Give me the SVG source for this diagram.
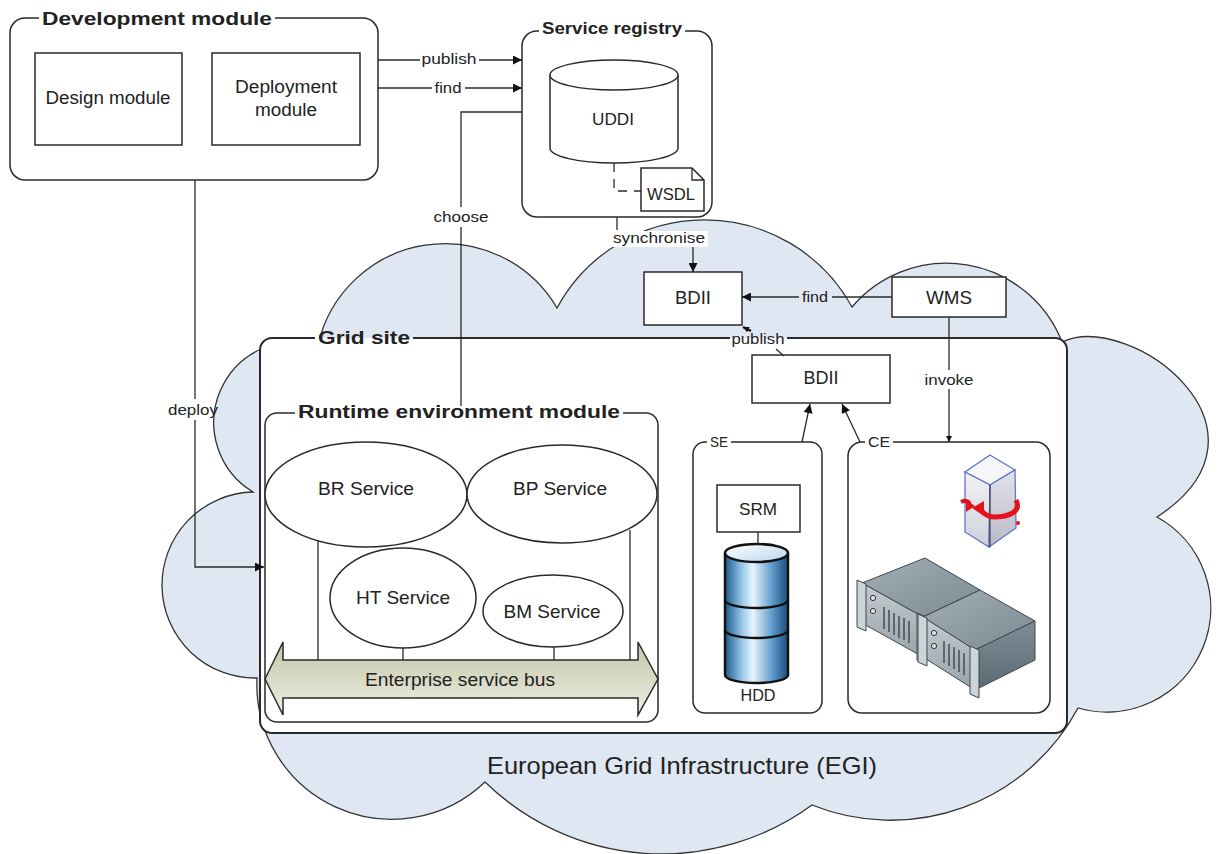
<svg xmlns="http://www.w3.org/2000/svg" width="1219" height="854" viewBox="0 0 1219 854">
  <defs>
    <style>
      text { font-family: "Liberation Sans", Arial, sans-serif; fill: #222; }
      .c { text-anchor: middle; }
      .lbl { font-size: 15px; }
      .nm { font-size: 18px; }
      .sv { font-size: 19px; }
      .ttl { font-size: 19px; font-weight: bold; }
      .box { fill: #fff; stroke: #2a2a2a; stroke-width: 1.5; }
      .bg { fill: #fff; stroke: none; }
      .frame { fill: none; stroke: #2a2a2a; stroke-width: 1.5; }
      .ln { fill: none; stroke: #2a2a2a; stroke-width: 1.3; }
      .arr { marker-end: url(#ah); }
    </style>
    <marker id="ah" viewBox="0 0 10 10" refX="10" refY="5" markerWidth="11" markerHeight="9" markerUnits="userSpaceOnUse" orient="auto">
      <path d="M0,0 L10,5 L0,10 Z" fill="#111"/>
    </marker>
    <marker id="ahs" viewBox="0 0 10 10" refX="10" refY="5" markerWidth="7" markerHeight="6" markerUnits="userSpaceOnUse" orient="auto">
      <path d="M0,0 L10,5 L0,10 Z" fill="#111"/>
    </marker>
    <linearGradient id="busFill" x1="0" y1="0" x2="0" y2="1">
      <stop offset="0" stop-color="#c3c6a8"/>
      <stop offset="0.6" stop-color="#dcdecb"/>
      <stop offset="1" stop-color="#eff0e6"/>
    </linearGradient>
    <linearGradient id="hddFill" x1="0" y1="0" x2="1" y2="0">
      <stop offset="0" stop-color="#1c5990"/>
      <stop offset="0.28" stop-color="#9ccbea"/>
      <stop offset="0.45" stop-color="#e8f4fc"/>
      <stop offset="0.75" stop-color="#5c9bcb"/>
      <stop offset="1" stop-color="#1a4c7c"/>
    </linearGradient>
    <linearGradient id="hddTop" x1="0" y1="0" x2="1" y2="1">
      <stop offset="0" stop-color="#ffffff"/>
      <stop offset="1" stop-color="#b6d6ee"/>
    </linearGradient>
    <linearGradient id="cubeL" x1="0" y1="0" x2="0" y2="1">
      <stop offset="0" stop-color="#f2f2f6"/>
      <stop offset="1" stop-color="#cfd0da"/>
    </linearGradient>
    <linearGradient id="cubeR" x1="0" y1="0" x2="0" y2="1">
      <stop offset="0" stop-color="#e2e2ea"/>
      <stop offset="1" stop-color="#b9bac6"/>
    </linearGradient>
    <linearGradient id="srvTop" x1="0" y1="0" x2="1" y2="1">
      <stop offset="0" stop-color="#a3aeb5"/>
      <stop offset="1" stop-color="#7d8a93"/>
    </linearGradient>
    <linearGradient id="srvFront" x1="0" y1="0" x2="0" y2="1">
      <stop offset="0" stop-color="#c4cbd0"/>
      <stop offset="1" stop-color="#98a3aa"/>
    </linearGradient>
    <linearGradient id="srvSide" x1="0" y1="0" x2="0" y2="1">
      <stop offset="0" stop-color="#7f8d96"/>
      <stop offset="1" stop-color="#5c6a73"/>
    </linearGradient>
  </defs>

  <rect x="0" y="0" width="1219" height="854" fill="#fff"/>

  <!-- EGI cloud -->
  <g id="egi-cloud">
    <path d="M318 345 A130 130 0 0 1 557 308 A168 168 0 0 1 852 307 A124 124 0 0 1 1062 342 C1130 310 1290 430 1157 517 A104 104 0 0 1 1078 708 A212 212 0 0 1 812 805 A254 254 0 0 1 485 782 A135 135 0 0 1 257 678 A93 93 0 0 1 253 492 A81 81 0 0 1 318 345 Z" fill="#dfe7f2" stroke="#333" stroke-width="1.3"/>
    <text x="682" y="774" class="c" font-size="24" textLength="390" lengthAdjust="spacingAndGlyphs">European Grid Infrastructure (EGI)</text>
  </g>

  <!-- Development module -->
  <g id="development-module">
    <rect x="10" y="18" width="368" height="162" rx="15" class="bg"/>
    <path class="frame" d="M275 18 H363 A15 15 0 0 1 378 33 V165 A15 15 0 0 1 363 180 H25 A15 15 0 0 1 10 165 V33 A15 15 0 0 1 25 18 H39"/>
    <text x="42" y="25" class="ttl" textLength="230" lengthAdjust="spacingAndGlyphs">Development module</text>
  </g>
  <g id="design-module">
    <rect x="35" y="53" width="147" height="92" class="box"/>
    <text x="108" y="104" class="c nm" textLength="125" lengthAdjust="spacingAndGlyphs">Design module</text>
  </g>
  <g id="deployment-module">
    <rect x="212" y="53" width="148" height="92" class="box"/>
    <text x="286" y="93" class="c nm" textLength="102" lengthAdjust="spacingAndGlyphs">Deployment</text>
    <text x="286" y="116" class="c nm" textLength="62" lengthAdjust="spacingAndGlyphs">module</text>
  </g>

  <!-- Service registry -->
  <g id="service-registry">
    <rect x="522" y="31" width="190" height="186" rx="15" class="bg"/>
    <path class="frame" d="M685 31 H697 A15 15 0 0 1 712 46 V202 A15 15 0 0 1 697 217 H537 A15 15 0 0 1 522 202 V46 A15 15 0 0 1 537 31 H539"/>
    <text x="542" y="34" font-size="16" font-weight="bold" textLength="140" lengthAdjust="spacingAndGlyphs">Service registry</text>
  </g>
  <g id="uddi">
    <path d="M550 75 V148 A64 15 0 0 0 678 148 V75" class="box"/>
    <ellipse cx="614" cy="75" rx="64" ry="15" class="box"/>
    <text x="613" y="125" class="c" font-size="17" textLength="42" lengthAdjust="spacingAndGlyphs">UDDI</text>
  </g>
  <g id="wsdl">
    <path d="M641 168 H692 L704 180 V211 H641 Z" class="box"/>
    <path d="M692 168 V180 H704" class="ln"/>
    <text x="671" y="200" class="c" font-size="17" textLength="48" lengthAdjust="spacingAndGlyphs">WSDL</text>
  </g>

  <!-- Top-level BDII and WMS -->
  <g id="bdii-top">
    <rect x="644" y="272" width="98" height="53" class="box"/>
    <text x="693" y="304" class="c nm" textLength="36" lengthAdjust="spacingAndGlyphs">BDII</text>
  </g>
  <g id="wms">
    <rect x="892" y="277" width="114" height="40" class="box"/>
    <text x="949" y="304" class="c nm" textLength="46" lengthAdjust="spacingAndGlyphs">WMS</text>
  </g>

  <!-- Grid site -->
  <g id="grid-site">
    <rect x="260" y="338" width="807" height="395" rx="12" class="bg"/>
    <path d="M413 338 H730 M787 338 H1055 A12 12 0 0 1 1067 350 V721 A12 12 0 0 1 1055 733 H272 A12 12 0 0 1 260 721 V350 A12 12 0 0 1 272 338 H315" fill="none" stroke="#2a2a2a" stroke-width="2"/>
    <text x="318" y="344" class="ttl" textLength="92" lengthAdjust="spacingAndGlyphs">Grid site</text>
  </g>
  <g id="bdii-site">
    <rect x="752" y="355" width="138" height="48" class="box"/>
    <text x="821" y="384" class="c nm" textLength="35" lengthAdjust="spacingAndGlyphs">BDII</text>
  </g>

  <!-- Runtime environment module -->
  <g id="runtime-environment-module">
    <path class="frame" d="M623 413 H646 A12 12 0 0 1 658 425 V710 A12 12 0 0 1 646 722 H277 A12 12 0 0 1 265 710 V425 A12 12 0 0 1 277 413 H295"/>
    <text x="298" y="418" class="ttl" textLength="322" lengthAdjust="spacingAndGlyphs">Runtime environment module</text>
  </g>
  <g id="service-links">
    <path class="ln" d="M318 540 V660 M403 648 V660 M554 647 V660 M630 530 V660"/>
  </g>
  <g id="br-service">
    <ellipse cx="366" cy="494.5" rx="101" ry="52.5" class="box"/>
    <text x="366" y="495" class="c sv" textLength="96" lengthAdjust="spacingAndGlyphs">BR Service</text>
  </g>
  <g id="bp-service">
    <ellipse cx="562" cy="494" rx="95" ry="49" class="box"/>
    <text x="560" y="495" class="c sv" textLength="94" lengthAdjust="spacingAndGlyphs">BP Service</text>
  </g>
  <g id="ht-service">
    <ellipse cx="403" cy="598" rx="73" ry="50" class="box"/>
    <text x="403" y="604" class="c sv" textLength="94" lengthAdjust="spacingAndGlyphs">HT Service</text>
  </g>
  <g id="bm-service">
    <ellipse cx="553" cy="611" rx="70" ry="36" class="box"/>
    <text x="552" y="618" class="c sv" textLength="97" lengthAdjust="spacingAndGlyphs">BM Service</text>
  </g>
  <g id="enterprise-service-bus">
    <path d="M265 679 L283 642 V660 H638 V642 L658 679 L638 715 V698 H283 V715 Z" fill="url(#busFill)" stroke="#2a2a2a" stroke-width="1.5" stroke-linejoin="miter"/>
    <text x="460" y="686" class="c nm" textLength="190" lengthAdjust="spacingAndGlyphs">Enterprise service bus</text>
  </g>

  <!-- Storage element -->
  <g id="se">
    <path class="frame" d="M731 442 H810 A12 12 0 0 1 822 454 V701 A12 12 0 0 1 810 713 H705 A12 12 0 0 1 693 701 V454 A12 12 0 0 1 705 442 H707"/>
    <text x="710" y="447" font-size="15" textLength="18" lengthAdjust="spacingAndGlyphs">SE</text>
  </g>
  <g id="srm">
    <rect x="717" y="485" width="83" height="47" class="box"/>
    <text x="758" y="515" class="c" font-size="17" textLength="38" lengthAdjust="spacingAndGlyphs">SRM</text>
  </g>
  <g id="hdd">
    <path d="M725 553 V675 A31.5 8 0 0 0 788 675 V553" fill="url(#hddFill)" stroke="#111" stroke-width="2.5"/>
    <path d="M725 600 A31.5 8 0 0 0 788 600 M725 630 A31.5 8 0 0 0 788 630" fill="none" stroke="#111" stroke-width="2.5"/>
    <ellipse cx="756.5" cy="553" rx="31.5" ry="9" fill="url(#hddTop)" stroke="#111" stroke-width="2.5"/>
    <text x="758" y="701" class="c" font-size="16" textLength="35" lengthAdjust="spacingAndGlyphs">HDD</text>
  </g>

  <!-- Computing element -->
  <g id="ce">
    <path class="frame" d="M893 442 H1036 A14 14 0 0 1 1050 456 V699 A14 14 0 0 1 1036 713 H862 A14 14 0 0 1 848 699 V456 A14 14 0 0 1 862 442 H865"/>
    <text x="868" y="447" font-size="15" textLength="22" lengthAdjust="spacingAndGlyphs">CE</text>
  </g>
  <g id="ce-job-icon">
    <path d="M990 455 L1015 470 L990 485 L965 472 Z" fill="#f6f6f9" stroke="#6474c8" stroke-width="1.3"/>
    <path d="M965 472 L990 485 L989 547 L965 532 Z" fill="url(#cubeL)" stroke="#6474c8" stroke-width="1.3"/>
    <path d="M990 485 L1015 470 L1016 528 L989 547 Z" fill="url(#cubeR)" stroke="#6474c8" stroke-width="1.3"/>
    <path d="M990 485 V547" stroke="#333" stroke-width="1"/>
    <path d="M1016 500 C1022 512 1008 517 994 517 C987 517 983 513 980 509" fill="none" stroke="#e3121c" stroke-width="5"/>
    <path d="M972 508 L984 501 L984 516 Z" fill="#e3121c"/>
    <path d="M961 502 C965 500 968 501 970 504" fill="none" stroke="#e3121c" stroke-width="4"/>
    <path d="M975 506 L966 500 L966 512 Z" fill="#e3121c"/>
    <circle cx="1018" cy="523" r="2" fill="#e3121c"/>
  </g>
  <g id="ce-servers">
    <!-- rear unit -->
    <path d="M862 583 L925 558 L980 590 L923 617 Z" fill="url(#srvTop)" stroke="#3d464c" stroke-width="1"/>
    <path d="M862 583 L923 617 L923 657 L862 623 Z" fill="url(#srvFront)" stroke="#3d464c" stroke-width="1"/>
    <path d="M857 580 L866 584 L866 631 L857 627 Z" fill="#cdd4d8" stroke="#3d464c" stroke-width="1"/>
    <path d="M917 613 L926 617 L926 664 L917 660 Z" fill="#cdd4d8" stroke="#3d464c" stroke-width="1"/>
    <circle cx="873" cy="598" r="2.6" fill="#dfe4e7" stroke="#333" stroke-width="1"/>
    <circle cx="873" cy="611" r="2.6" fill="#dfe4e7" stroke="#333" stroke-width="1"/>
    <path d="M884 607 v22 M889 610 v22 M894 613 v22 M899 616 v22 M904 618 v22 M909 621 v22" stroke="#3d464c" stroke-width="1.4"/>
    <!-- front unit -->
    <path d="M923 617 L980 590 L1035 621 L975 650 Z" fill="url(#srvTop)" stroke="#3d464c" stroke-width="1"/>
    <path d="M923 617 L975 650 L975 690 L923 657 Z" fill="url(#srvFront)" stroke="#3d464c" stroke-width="1"/>
    <path d="M975 650 L1035 621 L1035 660 L975 690 Z" fill="url(#srvSide)" stroke="#3d464c" stroke-width="1"/>
    <path d="M918 614 L927 618 L927 666 L918 662 Z" fill="#cdd4d8" stroke="#3d464c" stroke-width="1"/>
    <path d="M970 646 L979 650 L979 698 L970 694 Z" fill="#cdd4d8" stroke="#3d464c" stroke-width="1"/>
    <circle cx="934" cy="633" r="2.6" fill="#dfe4e7" stroke="#333" stroke-width="1"/>
    <circle cx="934" cy="646" r="2.6" fill="#dfe4e7" stroke="#333" stroke-width="1"/>
    <path d="M944 641 v22 M949 644 v22 M954 647 v22 M959 650 v22 M964 653 v22" stroke="#3d464c" stroke-width="1.4"/>
  </g>

  <!-- Connectors -->
  <g id="connectors">
    <!-- publish / find towards the registry -->
    <path class="ln" d="M378 60 H420"/>
    <path class="ln arr" d="M479 60 H522"/>
    <text x="449" y="64" class="c lbl" textLength="55" lengthAdjust="spacingAndGlyphs">publish</text>
    <path class="ln" d="M378 88 H432"/>
    <path class="ln arr" d="M465 88 H522"/>
    <text x="448" y="93" class="c lbl" textLength="27" lengthAdjust="spacingAndGlyphs">find</text>
    <!-- choose -->
    <path class="ln" d="M522 112 H461 V207 M461 227 V406"/>
    <text x="461" y="222" class="c lbl" textLength="55" lengthAdjust="spacingAndGlyphs">choose</text>
    <!-- deploy -->
    <path class="ln" d="M195 180 V399"/>
    <path class="ln arr" d="M195 420 V567 H264"/>
    <text x="193" y="415" class="c lbl" textLength="50" lengthAdjust="spacingAndGlyphs">deploy</text>
    <!-- UDDI to WSDL -->
    <path d="M614 163 V191 H641" fill="none" stroke="#2a2a2a" stroke-width="1.3" stroke-dasharray="9 7"/>
    <!-- synchronise -->
    <path class="ln" d="M617 217 V230"/>
    <rect x="611" y="231" width="97" height="16" class="bg"/>
    <text x="659" y="243" class="c lbl" textLength="92" lengthAdjust="spacingAndGlyphs">synchronise</text>
    <path class="ln arr" d="M693 247 V272"/>
    <!-- find: WMS to BDII -->
    <path class="ln" d="M892 297 H832"/>
    <path class="ln arr" d="M799 297 H742"/>
    <text x="815" y="302" class="c lbl" textLength="26" lengthAdjust="spacingAndGlyphs">find</text>
    <!-- publish: site BDII to top BDII -->
    <path class="ln" d="M784 356 L776 349"/>
    <path d="M751 331 L743 327" fill="none" stroke="#111" stroke-width="2.5" marker-end="url(#ahs)"/>
    <text x="758" y="344" class="c lbl" textLength="53" lengthAdjust="spacingAndGlyphs">publish</text>
    <!-- invoke -->
    <path class="ln" d="M949 317 V370"/>
    <path class="ln" d="M949 389 V442" marker-end="url(#ahs)"/>
    <text x="949" y="385" class="c lbl" textLength="49" lengthAdjust="spacingAndGlyphs">invoke</text>
    <!-- SE / CE to site BDII -->
    <path class="ln arr" d="M802 442 L810 404"/>
    <path class="ln arr" d="M860 442 L842 404"/>
    <!-- SRM to HDD -->
    <path class="ln" d="M758 532 V545"/>
  </g>
</svg>
